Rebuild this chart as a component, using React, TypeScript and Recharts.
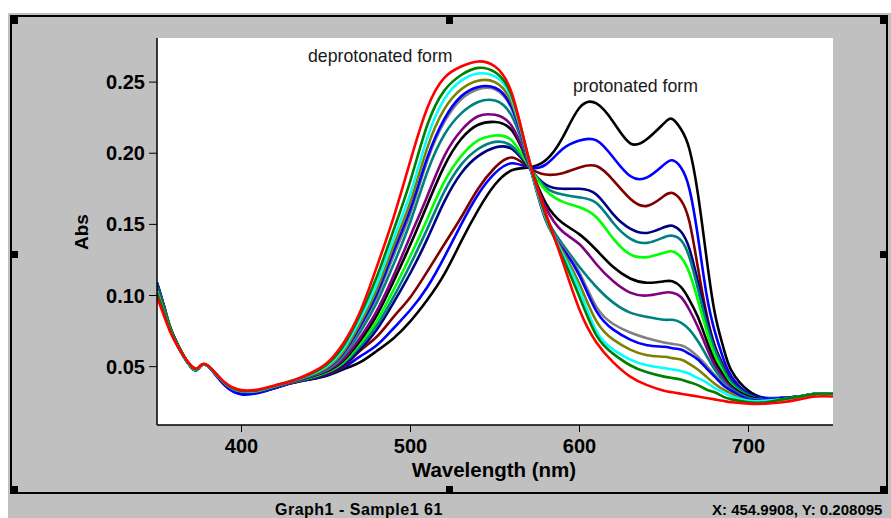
import React from 'react';
import { LineChart, Line, XAxis, YAxis } from 'recharts';

// wavelength grid (nm) shared by every spectrum
const wavelengths = [
  350, 355, 360, 370, 375, 380, 390, 400, 410, 420, 430, 440,
  450, 460, 470, 480, 490, 500, 510, 520, 530, 540, 550, 560, 570,
  580, 590, 600, 610, 620, 630, 640, 650, 655, 660, 665, 670, 675, 680, 685, 690, 700, 710, 720, 730, 740, 750,
];

// absorbance spectra, from the most protonated (1) to the deprotonated form (15)
const abs1 = [
  0.109, 0.089, 0.071, 0.050, 0.0495, 0.0505, 0.038, 0.0315, 0.032, 0.035, 0.0385, 0.041,
  0.0435, 0.048, 0.053, 0.061, 0.070, 0.082, 0.097, 0.115, 0.138, 0.160, 0.178, 0.188, 0.190,
  0.195, 0.211, 0.232, 0.235, 0.222, 0.207, 0.210, 0.221, 0.224, 0.217, 0.203, 0.172, 0.128, 0.088, 0.064, 0.047, 0.033, 0.028, 0.028, 0.029, 0.031, 0.031,
];
const abs2 = [
  0.109, 0.089, 0.071, 0.050, 0.0495, 0.0505, 0.037, 0.0305, 0.0315, 0.035, 0.0385, 0.041,
  0.044, 0.049, 0.057, 0.065, 0.077, 0.090, 0.106, 0.127, 0.150, 0.171, 0.186, 0.193, 0.190,
  0.192, 0.203, 0.209, 0.209, 0.197, 0.184, 0.183, 0.192, 0.195, 0.190, 0.175, 0.142, 0.102, 0.075, 0.056, 0.043, 0.031, 0.028, 0.028, 0.029, 0.031, 0.031,
];
const abs3 = [
  0.108, 0.088, 0.071, 0.050, 0.0495, 0.0505, 0.038, 0.0318, 0.0322, 0.0352, 0.0388, 0.0415,
  0.0445, 0.050, 0.061, 0.071, 0.085, 0.099, 0.117, 0.136, 0.155, 0.175, 0.190, 0.197, 0.190,
  0.185, 0.186, 0.190, 0.191, 0.181, 0.168, 0.163, 0.170, 0.172, 0.167, 0.152, 0.120, 0.088, 0.065, 0.051, 0.040, 0.030, 0.027, 0.028, 0.029, 0.031, 0.031,
];
const abs4 = [
  0.108, 0.088, 0.071, 0.050, 0.0495, 0.0505, 0.038, 0.0318, 0.0323, 0.0353, 0.0389, 0.0418,
  0.045, 0.051, 0.062, 0.076, 0.095, 0.116, 0.140, 0.166, 0.186, 0.198, 0.204, 0.203, 0.190,
  0.178, 0.175, 0.175, 0.171, 0.157, 0.147, 0.144, 0.148, 0.149, 0.145, 0.133, 0.110, 0.085, 0.064, 0.050, 0.040, 0.030, 0.027, 0.028, 0.029, 0.031, 0.031,
];
const abs5 = [
  0.108, 0.088, 0.071, 0.050, 0.0495, 0.0505, 0.038, 0.0319, 0.0324, 0.0354, 0.039, 0.042,
  0.0455, 0.052, 0.064, 0.079, 0.099, 0.122, 0.147, 0.173, 0.192, 0.203, 0.208, 0.205, 0.191,
  0.176, 0.171, 0.169, 0.165, 0.151, 0.140, 0.137, 0.141, 0.142, 0.139, 0.127, 0.105, 0.081, 0.062, 0.049, 0.039, 0.030, 0.027, 0.028, 0.029, 0.031, 0.031,
];
const abs6 = [
  0.107, 0.088, 0.071, 0.050, 0.0495, 0.0505, 0.038, 0.032, 0.0325, 0.0355, 0.039, 0.042,
  0.046, 0.053, 0.066, 0.082, 0.104, 0.128, 0.154, 0.180, 0.198, 0.209, 0.2125, 0.209, 0.191,
  0.174, 0.166, 0.162, 0.155, 0.140, 0.129, 0.127, 0.130, 0.131, 0.127, 0.116, 0.097, 0.076, 0.058, 0.046, 0.037, 0.029, 0.027, 0.028, 0.029, 0.031, 0.031,
];
const abs7 = [
  0.107, 0.087, 0.071, 0.050, 0.0495, 0.0505, 0.038, 0.032, 0.0326, 0.0356, 0.0392, 0.0425,
  0.0465, 0.054, 0.068, 0.086, 0.110, 0.136, 0.164, 0.191, 0.210, 0.220, 0.222, 0.216, 0.192,
  0.165, 0.151, 0.143, 0.132, 0.120, 0.112, 0.109, 0.110, 0.110, 0.106, 0.097, 0.085, 0.069, 0.054, 0.044, 0.036, 0.029, 0.027, 0.028, 0.029, 0.031, 0.031,
];
const abs8 = [
  0.106, 0.087, 0.070, 0.050, 0.0495, 0.0505, 0.038, 0.0321, 0.0327, 0.0357, 0.0393, 0.0428,
  0.047, 0.055, 0.070, 0.089, 0.114, 0.142, 0.170, 0.198, 0.216, 0.226, 0.227, 0.219, 0.192,
  0.162, 0.145, 0.136, 0.122, 0.110, 0.102, 0.100, 0.102, 0.102, 0.099, 0.090, 0.078, 0.064, 0.051, 0.042, 0.035, 0.028, 0.027, 0.028, 0.029, 0.031, 0.031,
];
const abs9 = [
  0.106, 0.087, 0.070, 0.050, 0.0495, 0.0505, 0.038, 0.0322, 0.0328, 0.0358, 0.0394, 0.043,
  0.0475, 0.057, 0.074, 0.095, 0.122, 0.152, 0.187, 0.213, 0.228, 0.236, 0.237, 0.226, 0.193,
  0.156, 0.136, 0.120, 0.106, 0.095, 0.088, 0.085, 0.083, 0.083, 0.081, 0.076, 0.068, 0.058, 0.048, 0.040, 0.034, 0.028, 0.027, 0.028, 0.029, 0.031, 0.031,
];
const abs10 = [
  0.105, 0.086, 0.070, 0.050, 0.0495, 0.0505, 0.0382, 0.0323, 0.0329, 0.036, 0.0396, 0.0433,
  0.048, 0.058, 0.077, 0.099, 0.128, 0.158, 0.195, 0.222, 0.238, 0.245, 0.245, 0.231, 0.194,
  0.154, 0.134, 0.116, 0.092, 0.080, 0.074, 0.070, 0.067, 0.066, 0.065, 0.062, 0.057, 0.051, 0.044, 0.038, 0.033, 0.027, 0.027, 0.028, 0.029, 0.031, 0.031,
];
const abs11 = [
  0.105, 0.086, 0.070, 0.050, 0.0495, 0.0505, 0.037, 0.031, 0.032, 0.0355, 0.0395, 0.0433,
  0.0485, 0.059, 0.078, 0.101, 0.131, 0.161, 0.197, 0.224, 0.240, 0.2465, 0.246, 0.232, 0.194,
  0.153, 0.133, 0.114, 0.089, 0.076, 0.069, 0.065, 0.064, 0.063, 0.062, 0.059, 0.055, 0.049, 0.043, 0.037, 0.033, 0.027, 0.027, 0.028, 0.029, 0.031, 0.031,
];
const abs12 = [
  0.104, 0.086, 0.070, 0.050, 0.0495, 0.0505, 0.0383, 0.0325, 0.033, 0.0362, 0.0398, 0.0436,
  0.049, 0.060, 0.080, 0.104, 0.135, 0.166, 0.204, 0.231, 0.245, 0.251, 0.250, 0.235, 0.195,
  0.154, 0.131, 0.108, 0.082, 0.069, 0.062, 0.058, 0.057, 0.056, 0.055, 0.052, 0.048, 0.043, 0.038, 0.034, 0.031, 0.026, 0.026, 0.027, 0.029, 0.031, 0.031,
];
const abs13 = [
  0.103, 0.085, 0.070, 0.050, 0.0497, 0.0507, 0.0385, 0.0327, 0.0332, 0.0364, 0.040, 0.044,
  0.050, 0.062, 0.083, 0.108, 0.140, 0.172, 0.211, 0.238, 0.251, 0.256, 0.254, 0.238, 0.195,
  0.155, 0.129, 0.104, 0.075, 0.062, 0.055, 0.051, 0.049, 0.048, 0.047, 0.045, 0.042, 0.039, 0.035, 0.032, 0.029, 0.026, 0.026, 0.027, 0.029, 0.031, 0.031,
];
const abs14 = [
  0.102, 0.085, 0.070, 0.0503, 0.0498, 0.0508, 0.0387, 0.033, 0.0335, 0.0366, 0.0402, 0.0443,
  0.051, 0.064, 0.086, 0.113, 0.146, 0.181, 0.220, 0.244, 0.255, 0.260, 0.257, 0.240, 0.196,
  0.156, 0.127, 0.099, 0.072, 0.059, 0.051, 0.046, 0.043, 0.042, 0.041, 0.039, 0.037, 0.034, 0.032, 0.029, 0.027, 0.025, 0.025, 0.027, 0.029, 0.031, 0.031,
];
const abs15 = [
  0.099, 0.083, 0.069, 0.051, 0.050, 0.051, 0.039, 0.0335, 0.034, 0.037, 0.040, 0.045,
  0.052, 0.066, 0.088, 0.120, 0.155, 0.195, 0.232, 0.253, 0.261, 0.2645, 0.261, 0.242, 0.196,
  0.158, 0.124, 0.090, 0.067, 0.053, 0.043, 0.037, 0.033, 0.032, 0.031, 0.030, 0.029, 0.028, 0.027, 0.026, 0.025, 0.024, 0.024, 0.025, 0.027, 0.029, 0.029,
];

const spectra = [abs1, abs2, abs3, abs4, abs5, abs6, abs7, abs8, abs9, abs10, abs11, abs12, abs13, abs14, abs15];
const colors = [
  '#000000', '#0000ff', '#800000', '#000080', '#008080', '#00ff00', '#000000', '#800080',
  '#008080', '#808080', '#0000ff', '#808000', '#00ffff', '#008000', '#ff0000',
];

const xTicks = [400, 500, 600, 700];
const yTicks = [0.05, 0.1, 0.15, 0.2, 0.25];

const font = '"Liberation Sans", Arial, sans-serif';

const rows = wavelengths.map((wl, i) => {
  const row: Record<string, number> = { wl };
  spectra.forEach((s, k) => {
    row['s' + (k + 1)] = s[i];
  });
  return row;
});

const tickStyle = { fill: '#000', fontSize: 20, fontWeight: 700, fontFamily: font };

function Handle({ x, y }: { x: number; y: number }) {
  return <rect x={x} y={y} width={7} height={7} fill="#000" />;
}

export default function App() {
  return (
    <div style={{ position: 'absolute', left: 0, top: 0, width: 891, height: 518, overflow: 'hidden', background: '#fff' }}>
      <svg width={891} height={518} style={{ position: 'absolute', left: 0, top: 0 }}>
        <rect x={8} y={13} width={883} height={505} fill="#c0c0c0" />
        <rect x={11} y={16} width={876} height={477} fill="none" stroke="#000" strokeWidth={2} />
        <rect x={157} y={38} width={676} height={387} fill="#fff" />
      </svg>
      <div style={{ position: 'absolute', left: 0, top: 0 }}>
        <LineChart width={891} height={518} data={rows} margin={{ top: 38, right: 58, bottom: 63, left: 97 }}>
          <XAxis
            dataKey="wl"
            type="number"
            domain={[350, 750]}
            ticks={xTicks}
            allowDataOverflow
            height={30}
            tickSize={7}
            tickMargin={7}
            axisLine={{ stroke: '#000', strokeWidth: 1.5 }}
            tickLine={{ stroke: '#000' }}
            tick={tickStyle}
          />
          <YAxis
            type="number"
            domain={[0.009, 0.281]}
            ticks={yTicks}
            allowDataOverflow
            width={60}
            tickSize={8}
            tickMargin={4}
            tickFormatter={(v: number) => v.toFixed(2)}
            axisLine={{ stroke: '#000', strokeWidth: 1.5 }}
            tickLine={{ stroke: '#000' }}
            tick={tickStyle}
          />
          {spectra.map((_, k) => (
            <Line
              key={k}
              type="natural"
              dataKey={'s' + (k + 1)}
              stroke={colors[k]}
              strokeWidth={2.6}
              dot={false}
              isAnimationActive={false}
            />
          ))}
        </LineChart>
      </div>
      <svg width={891} height={518} style={{ position: 'absolute', left: 0, top: 0, pointerEvents: 'none' }}>
        <Handle x={11} y={17} />
        <Handle x={446} y={17} />
        <Handle x={880} y={17} />
        <Handle x={11} y={251} />
        <Handle x={880} y={251} />
        <Handle x={11} y={486} />
        <Handle x={446} y={486} />
        <Handle x={880} y={486} />
        <text x={308} y={62} fontFamily={font} fontSize={17.7} fill="#1a1a1a">deprotonated form</text>
        <text x={573} y={92} fontFamily={font} fontSize={17.7} fill="#1a1a1a">protonated form</text>
        <text x={494} y={477} textAnchor="middle" fontFamily={font} fontSize={20.5} fontWeight={700} fill="#000">
          Wavelength (nm)
        </text>
        <text x={88} y={232} textAnchor="middle" transform="rotate(-90 88 232)" fontFamily={font} fontSize={19} fontWeight={700} fill="#000">
          Abs
        </text>
        <text x={275} y={515} fontFamily={font} fontSize={16} fontWeight={700} letterSpacing={0.5} fill="#000">
          Graph1 - Sample1 61
        </text>
        <text x={712} y={515} fontFamily={font} fontSize={15} fontWeight={700} fill="#000">
          X: 454.9908, Y: 0.208095
        </text>
      </svg>
    </div>
  );
}
